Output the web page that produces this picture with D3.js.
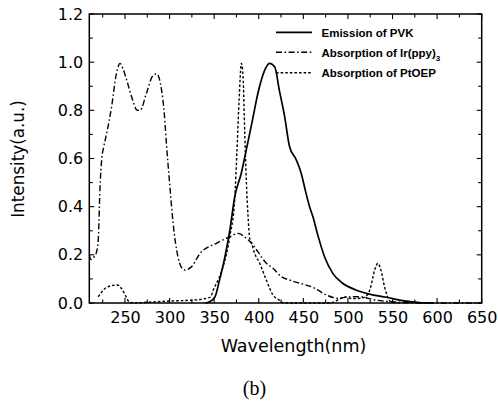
<!DOCTYPE html>
<html>
<head>
<meta charset="utf-8">
<script src="https://cdn.jsdelivr.net/npm/d3@7/dist/d3.min.js"></script>
<style>
  html, body { margin: 0; padding: 0; background: #fff; }
  svg { display: block; }
</style>
</head>
<body>
<svg id="chart" width="498" height="402"></svg>
<script>
// Emission of PVK (solid)
const pvkWl  = [340, 345, 351, 356, 362, 367.5, 373, 380.5, 386, 393.5, 399, 406.5, 412, 418, 423, 429, 434.5, 442, 447.5, 453, 457, 461, 466, 474, 483, 494, 509, 524, 543, 561, 580, 595];
const pvkVal = [0, 0.005, 0.026, 0.095, 0.19, 0.30, 0.44, 0.54, 0.635, 0.77, 0.87, 0.965, 0.995, 0.98, 0.885, 0.775, 0.65, 0.595, 0.54, 0.456, 0.40, 0.355, 0.285, 0.19, 0.123, 0.082, 0.054, 0.037, 0.024, 0.01, 0.002, 0];

// Absorption of Ir(ppy)3 (dash-dot)
const irWl  = [210, 212, 215, 218, 220, 222, 224, 226, 229.5, 235, 240.5, 244.5, 248, 252, 257.5, 264, 267, 274, 281.5, 285.5, 291, 294, 296.5, 300, 304, 309.5, 313, 317, 324.5, 334, 352.5, 367.5, 377, 384, 392, 399, 408.5, 416, 425, 435, 446, 460, 468, 476, 489, 500, 513, 531, 550, 580, 650];
const irVal = [0.20, 0.18, 0.19, 0.21, 0.26, 0.48, 0.60, 0.645, 0.705, 0.815, 0.955, 0.995, 0.97, 0.925, 0.855, 0.80, 0.80, 0.87, 0.945, 0.951, 0.885, 0.79, 0.66, 0.50, 0.33, 0.19, 0.15, 0.137, 0.15, 0.205, 0.248, 0.275, 0.289, 0.275, 0.248, 0.213, 0.165, 0.144, 0.11, 0.095, 0.082, 0.066, 0.05, 0.033, 0.02, 0.025, 0.026, 0.012, 0.005, 0, 0];

// Absorption of PtOEP (dotted)
const ptWl  = [220, 227.5, 235, 241, 246, 250, 252, 255, 260, 275, 300, 330, 342, 346, 349, 355, 360, 367.5, 373, 375.6, 378, 380.6, 382.4, 384.3, 386.2, 388, 390, 392, 395, 401, 408.5, 416, 423, 428, 480, 490, 497, 505, 515, 522, 525, 530, 533.5, 537, 541, 544.5, 548, 560];
const ptVal = [0.026, 0.06, 0.072, 0.075, 0.06, 0.035, 0.02, 0.003, 0, 0.003, 0.008, 0.013, 0.02, 0.025, 0.054, 0.10, 0.15, 0.275, 0.43, 0.635, 0.845, 0.995, 0.94, 0.705, 0.497, 0.36, 0.265, 0.248, 0.21, 0.165, 0.095, 0.033, 0.012, 0, 0, 0.015, 0.025, 0.018, 0.02, 0.035, 0.06, 0.137, 0.165, 0.137, 0.068, 0.026, 0.005, 0];

const xLabelTicks = [250, 300, 350, 400, 450, 500, 550, 600, 650];
const yLabelTicks = [0.0, 0.2, 0.4, 0.6, 0.8, 1.0, 1.2];
const legendLabels = ["Emission of PVK", "Absorption of Ir(ppy)", "Absorption of PtOEP"];

const svg = d3.select("#chart");
const pLeft = 89.3, pRight = 481.7, pTop = 14, pBottom = 303;

const x = d3.scaleLinear().domain([210, 650]).range([pLeft, pRight]);
const y = d3.scaleLinear().domain([0, 1.2]).range([pBottom, pTop]);

const font = "'DejaVu Sans', sans-serif";

// ticks on all four sides, pointing inward
const xMinor = d3.range(225, 651, 25);
const yMinor = d3.range(0, 1.2001, 0.1);
const ax = svg.append("g").attr("stroke", "#000").attr("stroke-width", 1.1);
xMinor.forEach(v => {
  const len = (v % 50 === 0) ? 5 : 3.5;
  ax.append("line").attr("x1", x(v)).attr("x2", x(v)).attr("y1", pBottom).attr("y2", pBottom - len);
  ax.append("line").attr("x1", x(v)).attr("x2", x(v)).attr("y1", pTop).attr("y2", pTop + len);
});
yMinor.forEach((v, i) => {
  const len = (i % 2 === 0) ? 5 : 3.5;
  ax.append("line").attr("x1", pLeft).attr("x2", pLeft + len).attr("y1", y(v)).attr("y2", y(v));
  ax.append("line").attr("x1", pRight).attr("x2", pRight - len).attr("y1", y(v)).attr("y2", y(v));
});

// axis labels via d3 axes (tick lines hidden)
const xAxis = svg.append("g").attr("transform", `translate(0,${pBottom})`)
  .call(d3.axisBottom(x).tickValues(xLabelTicks).tickSize(0).tickPadding(9).tickFormat(d3.format("d")));
xAxis.select(".domain").remove();
xAxis.selectAll("text").attr("font-family", font).attr("font-size", 16).attr("fill", "#000");

const yAxis = svg.append("g").attr("transform", `translate(${pLeft},0)`)
  .call(d3.axisLeft(y).tickValues(yLabelTicks).tickSize(0).tickPadding(6).tickFormat(d3.format(".1f")));
yAxis.select(".domain").remove();
yAxis.selectAll("text").attr("font-family", font).attr("font-size", 16).attr("fill", "#000");

// frame
svg.append("rect").attr("x", pLeft).attr("y", pTop).attr("width", pRight - pLeft).attr("height", pBottom - pTop)
  .attr("fill", "none").attr("stroke", "#000").attr("stroke-width", 1.5);

// curves
const line = d3.line().x(d => x(d[0])).y(d => y(d[1])).curve(d3.curveMonotoneX);
const series = [
  { wl: pvkWl, val: pvkVal, dash: null, w: 1.7 },
  { wl: irWl, val: irVal, dash: "6,2.5,1.6,2.5", w: 1.4 },
  { wl: ptWl, val: ptVal, dash: "2.6,2", w: 1.4 }
];
series.forEach(s => {
  const pts = s.wl.map((w, i) => [w, s.val[i]]);
  svg.append("path").attr("d", line(pts)).attr("fill", "none").attr("stroke", "#000")
    .attr("stroke-width", s.w).attr("stroke-dasharray", s.dash).attr("stroke-linejoin", "round");
});

// legend
const legY = [36.7, 56.5, 77];
series.forEach((s, i) => {
  svg.append("line").attr("x1", 276).attr("x2", 312).attr("y1", legY[i] - 4.3).attr("y2", legY[i] - 4.3)
    .attr("stroke", "#000").attr("stroke-width", s.w).attr("stroke-dasharray", s.dash);
  const t = svg.append("text").attr("x", 321.5).attr("y", legY[i])
    .attr("font-family", "'Liberation Sans', Arial, sans-serif").attr("font-weight", "bold")
    .attr("font-size", 11.5).text(legendLabels[i]);
  if (i === 1) t.append("tspan").attr("dy", 4).attr("font-size", 8).text("3");
});

// axis titles
svg.append("text").attr("x", 293.5).attr("y", 352).attr("text-anchor", "middle")
  .attr("font-family", font).attr("font-size", 17.5).text("Wavelength(nm)");
svg.append("text").attr("transform", "translate(23.5,159) rotate(-90)").attr("text-anchor", "middle")
  .attr("font-family", font).attr("font-size", 16.8).text("Intensity(a.u.)");

// panel tag
svg.append("text").attr("x", 254.5).attr("y", 395).attr("text-anchor", "middle")
  .attr("font-family", "'Liberation Serif', 'Times New Roman', serif").attr("font-size", 20).text("(b)");
</script>
</body>
</html>
